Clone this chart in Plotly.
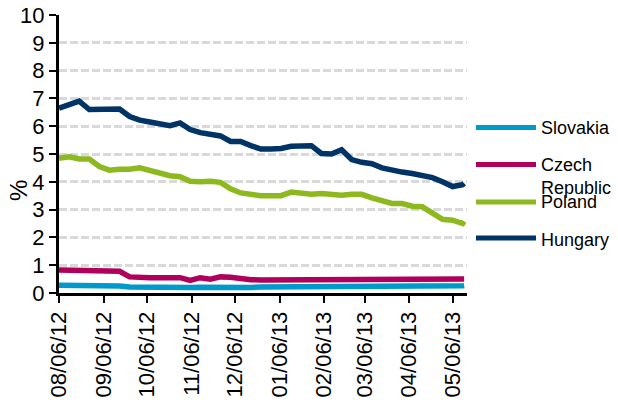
import plotly.graph_objects as go

# Weekly observation dates
dates = [
    "2012-08-06", "2012-08-13", "2012-08-20", "2012-08-27", "2012-09-03",
    "2012-09-10", "2012-09-17", "2012-09-24", "2012-10-01", "2012-10-08",
    "2012-10-15", "2012-10-22", "2012-10-29", "2012-11-05", "2012-11-12",
    "2012-11-19", "2012-11-26", "2012-12-03", "2012-12-10", "2012-12-17",
    "2012-12-24", "2012-12-31", "2013-01-07", "2013-01-14", "2013-01-21",
    "2013-01-28", "2013-02-04", "2013-02-11", "2013-02-18", "2013-02-25",
    "2013-03-04", "2013-03-11", "2013-03-18", "2013-03-25", "2013-04-01",
    "2013-04-08", "2013-04-15", "2013-04-22", "2013-04-29", "2013-05-06",
    "2013-05-13", "2013-05-14",
]

slovakia = [
    0.28, 0.28, 0.28, 0.28, 0.27, 0.26, 0.25, 0.22, 0.21, 0.20,
    0.20, 0.20, 0.21, 0.20, 0.21, 0.20, 0.20, 0.21, 0.18, 0.20,
    0.22, 0.22, 0.22, 0.23, 0.25, 0.25, 0.25, 0.25, 0.26, 0.25,
    0.24, 0.23, 0.25, 0.25, 0.25, 0.26, 0.25, 0.24, 0.24, 0.25,
    0.26, 0.27,
]

czech = [
    0.83, 0.82, 0.78, 0.78, 0.76, 0.75, 0.78, 0.58, 0.55, 0.55,
    0.55, 0.55, 0.55, 0.45, 0.55, 0.50, 0.58, 0.57, 0.52, 0.48,
    0.47, 0.47, 0.48, 0.48, 0.49, 0.49, 0.49, 0.49, 0.49, 0.49,
    0.49, 0.49, 0.49, 0.49, 0.49, 0.49, 0.48, 0.50, 0.49, 0.50,
    0.50, 0.50,
]

poland = [
    4.85, 4.90, 4.82, 4.82, 4.55, 4.42, 4.45, 4.45, 4.50, 4.40,
    4.28, 4.22, 4.18, 4.02, 4.00, 4.02, 3.98, 3.75, 3.60, 3.55,
    3.50, 3.50, 3.50, 3.63, 3.58, 3.55, 3.58, 3.55, 3.52, 3.55,
    3.55, 3.42, 3.30, 3.22, 3.22, 3.12, 3.10, 2.85, 2.65, 2.62,
    2.50, 2.58,
]

hungary = [
    6.65, 6.80, 6.90, 6.60, 6.60, 6.62, 6.62, 6.35, 6.22, 6.15,
    6.07, 6.02, 6.12, 5.88, 5.77, 5.70, 5.65, 5.45, 5.45, 5.30,
    5.18, 5.18, 5.20, 5.28, 5.30, 5.30, 5.02, 5.00, 5.15, 4.80,
    4.70, 4.65, 4.50, 4.40, 4.35, 4.30, 4.22, 4.15, 4.00, 3.83,
    3.90, 3.95,
]

series = [
    ("Slovakia", slovakia, "#0099CC"),
    ("Czech<br>Republic", czech, "#B0005C"),
    ("Poland", poland, "#8DB91E"),
    ("Hungary", hungary, "#003366"),
]

tick_dates = [
    "2012-08-06", "2012-09-06", "2012-10-06", "2012-11-06", "2012-12-06",
    "2013-01-06", "2013-02-06", "2013-03-06", "2013-04-06", "2013-05-06",
]
tick_labels = [
    "08/06/12", "09/06/12", "10/06/12", "11/06/12", "12/06/12",
    "01/06/13", "02/06/13", "03/06/13", "04/06/13", "05/06/13",
]

W, H = 618, 403
ML, MR, MT, MB = 59, 151, 15, 110
PW, PH = W - ML - MR, H - MT - MB

fig = go.Figure()
for name, vals, color in series:
    fig.add_trace(go.Scatter(
        x=dates, y=vals, mode="lines", name=name,
        line=dict(color=color, width=5.5), showlegend=False,
    ))


def px_to_paper(px, py):
    return (px - ML) / PW, (H - MB - py) / PH


# Legend drawn beside the plot area
legend_rows = [("Slovakia", 127.5, 128), ("Czech<br>Republic", 164.5, 176),
               ("Poland", 202, 202), ("Hungary", 238, 239.5)]
for (name, ly, ty), (_, _, color) in zip(legend_rows, series):
    x0, y0 = px_to_paper(476, ly)
    x1, _ = px_to_paper(536, ly)
    fig.add_shape(type="line", xref="paper", yref="paper",
                  x0=x0, x1=x1, y0=y0, y1=y0,
                  line=dict(color=color, width=5))
    tx, typ = px_to_paper(539, ty)
    fig.add_annotation(xref="paper", yref="paper", x=tx, y=typ,
                       text=name, showarrow=False, xanchor="left",
                       yanchor="middle", align="left",
                       font=dict(size=18, color="#000000"))

# Rotated y-axis title
ax, ay = px_to_paper(18, 191)
fig.add_annotation(xref="paper", yref="paper", x=ax, y=ay, text="%",
                   showarrow=False, textangle=-90, xanchor="center",
                   yanchor="middle", font=dict(size=24, color="#000000"))

fig.update_layout(
    width=W, height=H,
    margin=dict(l=ML, r=MR, t=MT, b=MB, pad=0, autoexpand=False),
    paper_bgcolor="white", plot_bgcolor="white",
    font=dict(family="Liberation Sans, Arial, sans-serif", color="#000000"),
)
fig.update_xaxes(
    type="date", range=["2012-08-06", "2013-05-16"], automargin=False,
    tickvals=tick_dates, ticktext=tick_labels, tickangle=-90,
    tickfont=dict(size=22), showgrid=False, zeroline=False,
    showline=True, linecolor="#000000", linewidth=3,
    ticks="outside", ticklen=7, tickwidth=2, tickcolor="#000000",
)
fig.update_yaxes(
    range=[0, 10], tickvals=list(range(0, 11)), tickfont=dict(size=22),
    automargin=False,
    showgrid=True, gridcolor="#D9D9D9", gridwidth=3, griddash="8px,3px",
    zeroline=False, showline=True, linecolor="#000000", linewidth=3,
    ticks="outside", ticklen=7, tickwidth=2, tickcolor="#000000",
)

fig.write_html("out.html")
